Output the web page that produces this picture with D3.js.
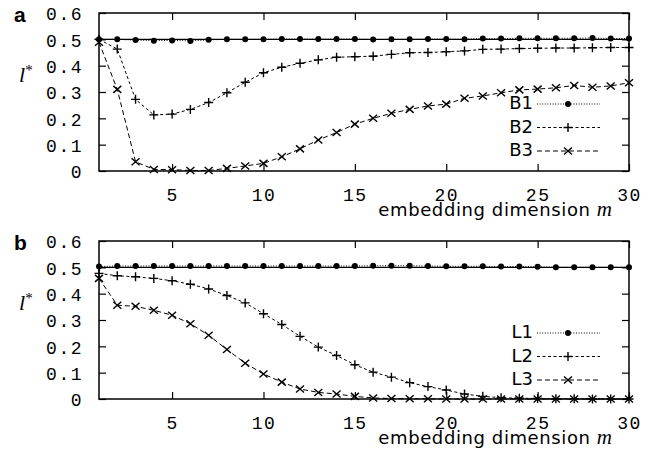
<!DOCTYPE html>
<html>
<head>
<meta charset="utf-8">
<script src="https://cdn.jsdelivr.net/npm/d3@7"></script>
<style>
  body { margin: 0; background: #fff; }
</style>
</head>
<body>
<div id="chart"></div>
<script>
// embedding dimension m = 1..30
var mValues = d3.range(1, 31);

// panel a
var B1 = [0.500, 0.500, 0.497, 0.495, 0.496, 0.494, 0.498, 0.500, 0.500, 0.500,
          0.501, 0.501, 0.501, 0.501, 0.501, 0.499, 0.500, 0.500, 0.501, 0.501,
          0.500, 0.503, 0.503, 0.504, 0.504, 0.504, 0.504, 0.505, 0.503, 0.503];
var B2 = [0.500, 0.463, 0.272, 0.213, 0.216, 0.234, 0.260, 0.297, 0.337, 0.373,
          0.394, 0.409, 0.422, 0.432, 0.434, 0.436, 0.443, 0.449, 0.450, 0.453,
          0.456, 0.462, 0.463, 0.465, 0.466, 0.467, 0.467, 0.468, 0.469, 0.469];
var B3 = [0.489, 0.310, 0.035, 0.006, 0.005, 0.002, 0.002, 0.010, 0.019, 0.029,
          0.054, 0.084, 0.118, 0.146, 0.178, 0.200, 0.219, 0.234, 0.247, 0.254,
          0.276, 0.285, 0.297, 0.308, 0.311, 0.316, 0.325, 0.318, 0.323, 0.335];

// panel b
var L1 = [0.503, 0.505, 0.505, 0.505, 0.505, 0.505, 0.505, 0.505, 0.505, 0.505,
          0.505, 0.505, 0.505, 0.505, 0.505, 0.506, 0.506, 0.506, 0.505, 0.504,
          0.504, 0.504, 0.503, 0.503, 0.502, 0.500, 0.500, 0.500, 0.500, 0.500];
var L2 = [0.477, 0.468, 0.464, 0.458, 0.449, 0.436, 0.418, 0.393, 0.365, 0.324,
          0.283, 0.238, 0.197, 0.165, 0.130, 0.102, 0.083, 0.062, 0.047, 0.034,
          0.019, 0.010, 0.005, 0.003, 0.002, 0.001, 0.001, 0.000, 0.000, 0.000];
var L3 = [0.458, 0.356, 0.352, 0.337, 0.318, 0.286, 0.242, 0.188, 0.136, 0.095,
          0.064, 0.038, 0.025, 0.019, 0.010, 0.004, 0.002, 0.001, 0.001, 0.000,
          0.000, 0.000, 0.000, 0.000, 0.000, 0.000, 0.000, 0.000, 0.000, 0.000];

var refLevel = 0.5;
var xTicks = [5, 10, 15, 20, 25, 30];
var yTicks = [0, 0.1, 0.2, 0.3, 0.4, 0.5, 0.6];
var panelA = { tag: "a", names: ["B1", "B2", "B3"], series: [B1, B2, B3] };
var panelB = { tag: "b", names: ["L1", "L2", "L3"], series: [L1, L2, L3] };

var svgWidth = 657;
var svgHeight = 462;
var plotLeft = 99, plotRight = 629;
var plotH = 158;

var svg = d3.select("#chart")
  .append("svg")
  .attr("width", svgWidth)
  .attr("height", svgHeight);

var x = d3.scaleLinear().domain([1, 30]).range([0, plotRight - plotLeft]);
var y = d3.scaleLinear().domain([0, 0.6]).range([plotH, 0]);

var styles = [
  { dash: "1,1.6", marker: "circle" },
  { dash: "3,2.5", marker: "plus" },
  { dash: "5,3", marker: "cross" }
];

function drawMarker(g, type, cx, cy) {
  if (type == "circle") {
    g.append("circle").attr("cx", cx).attr("cy", cy).attr("r", 3).attr("fill", "#000");
  } else if (type == "plus") {
    g.append("path")
      .attr("d", `M${cx - 4.5},${cy}H${cx + 4.5}M${cx},${cy - 4.5}V${cy + 4.5}`)
      .attr("stroke", "#000").attr("stroke-width", 1.4);
  } else {
    g.append("path")
      .attr("d", `M${cx - 4},${cy - 3.5}L${cx + 4},${cy + 3.5}M${cx - 4},${cy + 3.5}L${cx + 4},${cy - 3.5}`)
      .attr("stroke", "#000").attr("stroke-width", 1.4);
  }
}

function drawPanel(panel, top, legendTop) {
  var g = svg.append("g").attr("transform", `translate(${plotLeft}, ${top})`);

  // axes with inward ticks
  var left = g.append("g").call(d3.axisLeft(y).tickValues(yTicks).tickSize(-7).tickPadding(16));
  left.selectAll("text").text(d => d == 0 ? "0" : d3.format(".1f")(d)).attr("dy", "0.38em");
  g.append("g").attr("transform", `translate(${x.range()[1]}, 0)`)
    .call(d3.axisRight(y).tickValues(yTicks).tickSize(-7).tickFormat(""));
  var bottom = g.append("g").attr("transform", `translate(0, ${plotH})`)
    .call(d3.axisBottom(x).tickValues(xTicks).tickSize(-7).tickPadding(17));
  g.append("g").call(d3.axisTop(x).tickValues(xTicks).tickSize(-7).tickFormat(""));
  g.selectAll(".domain").remove();
  g.selectAll(".tick line").attr("stroke", "#000").attr("stroke-width", 1.2);
  g.selectAll(".tick text")
    .attr("font-family", "Liberation Mono, monospace")
    .attr("font-size", "18px")
    .attr("letter-spacing", "1.5px")
    .attr("fill", "#000");
  bottom.selectAll("text").attr("dy", "0.71em");

  // frame
  g.append("rect")
    .attr("width", x.range()[1]).attr("height", plotH)
    .attr("fill", "none").attr("stroke", "#000").attr("stroke-width", 1.5);

  // reference line at 0.5
  g.append("line")
    .attr("x1", x(1)).attr("x2", x(30))
    .attr("y1", y(refLevel)).attr("y2", y(refLevel))
    .attr("stroke", "#000").attr("stroke-width", 1.3);

  var line = d3.line().x((d, i) => x(mValues[i])).y(d => y(d));

  panel.series.forEach(function(s, k) {
    g.append("path")
      .attr("d", line(s))
      .attr("fill", "none")
      .attr("stroke", "#000")
      .attr("stroke-width", 1)
      .attr("stroke-dasharray", styles[k].dash);
    var mg = g.append("g");
    s.forEach(function(v, i) { drawMarker(mg, styles[k].marker, x(mValues[i]), y(v)); });

    // legend entry
    var ly = legendTop + k * 23.5 - top;
    g.append("text")
      .attr("x", 533 - plotLeft).attr("y", ly + 5)
      .attr("text-anchor", "end")
      .attr("font-family", "DejaVu Sans, sans-serif")
      .attr("font-size", "18px")
      .text(panel.names[k]);
    g.append("line")
      .attr("x1", 537 - plotLeft).attr("x2", 600 - plotLeft)
      .attr("y1", ly).attr("y2", ly)
      .attr("stroke", "#000").attr("stroke-width", 1)
      .attr("stroke-dasharray", styles[k].dash);
    drawMarker(g, styles[k].marker, 568 - plotLeft, ly);
  });

  // panel tag
  svg.append("text")
    .attr("x", 14).attr("y", top + 9)
    .attr("font-family", "Liberation Sans, sans-serif")
    .attr("font-weight", "bold")
    .attr("font-size", "21px")
    .text(panel.tag);

  // y label l*
  var yl = svg.append("text")
    .attr("x", 19).attr("y", top + 69)
    .attr("font-family", "Liberation Serif, serif")
    .attr("font-size", "22px");
  yl.append("tspan").attr("font-style", "italic").text("l");
  yl.append("tspan").attr("dy", "-7").attr("font-size", "15px").text("*");

  // x label
  var xl = svg.append("text")
    .attr("x", 612).attr("y", top + plotH + 45)
    .attr("text-anchor", "end")
    .attr("font-family", "DejaVu Sans, sans-serif")
    .attr("font-size", "18px")
    .attr("letter-spacing", "0.6px")
    .text("embedding dimension ");
  xl.append("tspan")
    .attr("font-family", "Liberation Serif, serif")
    .attr("font-style", "italic")
    .attr("font-size", "21px")
    .attr("letter-spacing", "0")
    .text("m");
}

drawPanel(panelA, 13, 104);
drawPanel(panelB, 241, 333);
</script>
</body>
</html>
